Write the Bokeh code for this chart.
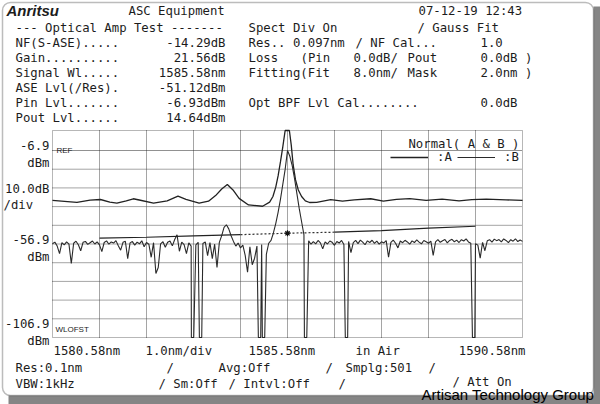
import numpy as np
from bokeh.plotting import figure
from bokeh.models import Range1d, Label, Legend, LegendItem, BoxAnnotation
from bokeh.embed import file_html
from bokeh.resources import INLINE

# ---------------- data ----------------
x_start, x_end = 1580.58, 1590.58
y_bottom, y_top = -106.9, 3.8
ref_level = -6.9
x_grid = [1581.58, 1582.58, 1583.58, 1584.58, 1585.58, 1586.58, 1587.58, 1588.58, 1589.58]
y_grid = [-96.9, -86.9, -76.9, -66.9, -56.9, -46.9, -36.9, -26.9, -16.9]

signal_wl = 1585.58
ase_lvl = -51.12

# Trace A (amplifier output)
a_wl = [1580.58, 1580.90, 1581.10, 1581.38, 1581.60, 1581.80, 1581.95, 1582.15, 1582.30, 1582.45,
        1582.73, 1583.02, 1583.25, 1583.42, 1583.70, 1583.90, 1584.05, 1584.18, 1584.30, 1584.42,
        1584.55, 1584.75, 1585.05, 1585.20, 1585.27, 1585.33, 1585.38, 1585.43, 1585.48, 1585.53,
        1585.58, 1585.62, 1585.66, 1585.70, 1585.75, 1585.81, 1585.88, 1585.96, 1586.05, 1586.20,
        1586.50, 1586.75, 1587.00, 1587.35, 1587.62, 1587.90, 1588.18, 1588.53, 1588.87, 1589.23,
        1589.50, 1589.81, 1590.23, 1590.58]
a_db = [-33.6, -34.2, -34.6, -33.4, -33.1, -34.5, -35.0, -33.8, -32.7, -33.5,
        -35.0, -33.8, -31.3, -33.0, -35.1, -34.0, -31.0, -27.5, -25.1, -28.0,
        -32.5, -36.0, -36.7, -34.5, -31.5, -26.5, -20.5, -13.0, -5.0, 5.0,
        14.64, 7.0, -4.0, -14.5, -22.5, -28.0, -31.5, -33.8, -34.7, -34.6,
        -33.2, -34.0, -33.3, -32.7, -34.0, -33.0, -32.6, -33.6, -32.9, -33.8,
        -33.2, -32.9, -33.3, -33.6]

# Trace B (amplifier input), 0.05 nm steps from 1580.58 to 1590.58
b_db = [-56.8, -55.9, -58.0, -62.0, -56.2, -57.4, -55.8, -57.0, -67.3, -56.5, -55.4, -57.3, -60.5, -56.0, -55.5, -57.1, -56.2, -55.3, -56.9, -55.8, -57.4,
        -61.0, -56.1, -55.2, -57.0, -55.8, -56.4, -55.1, -57.8, -60.2, -56.0, -55.4, -64.7, -56.3, -55.6, -57.5, -55.9, -56.8, -55.2, -58.4, -56.1,
        -57.0, -64.0, -56.2, -72.7, -69.5, -56.8, -55.7, -58.6, -56.0, -55.3, -57.9, -54.5, -52.0, -60.8, -55.9, -57.2, -62.0, -56.3, -58.0, -56.5,
        -57.4, -56.0, -58.5, -56.6, -55.8, -63.1, -56.2, -64.7, -57.0, -69.5, -56.0, -52.4, -48.0, -46.6, -48.8, -52.5, -55.5, -58.0, -56.4, -59.0,
        -57.5, -63.0, -72.0, -58.4, -68.0, -64.5, -58.0, -59.5, -57.2, -60.0, -62.5, -56.5, -55.0, -51.0, -46.0, -40.0, -33.0, -25.0, -17.0, -6.93,
        -10.0, -15.0, -22.0, -30.0, -38.0, -45.0, -52.0, -56.5, -55.2, -57.0, -55.6, -56.8, -55.0, -56.3, -59.5, -55.8, -56.9, -55.3, -56.0, -57.6,
        -55.6, -56.4, -55.0, -57.2, -56.0, -55.5, -61.5, -56.2, -55.0, -56.7, -54.8, -55.9, -57.3, -55.2, -56.1, -54.9, -56.6, -55.4, -57.0, -55.7,
        -56.3, -55.1, -64.0, -56.0, -54.8, -56.5, -59.0, -55.3, -56.2, -54.9, -55.8, -57.0, -55.2, -56.1, -54.7, -55.9, -56.8, -55.0, -55.7, -56.5,
        -55.4, -63.0, -55.8, -54.6, -56.0, -55.2, -54.5, -56.3, -55.0, -54.4, -55.7, -54.8, -56.1, -54.6, -55.3, -54.2, -55.8, -56.5, -55.0, -56.8,
        -57.5, -64.5, -56.0, -60.5, -55.2, -54.6, -55.9, -54.3, -55.1, -54.5, -55.8, -54.2, -55.0, -56.2, -54.6, -55.4, -54.1, -55.6, -54.8, -55.5]
# deep dropouts in trace B (start/end wavelength, level far below the display floor)
deep_lo = [1583.535, 1583.705, 1584.960, 1585.045, 1585.940, 1586.810, 1589.515]
deep_hi = [1583.585, 1583.755, 1585.010, 1585.095, 1585.990, 1586.860, 1589.565]
deep_db = [-115.0, -115.0, -115.0, -115.0, -115.0, -115.0, -115.0]

# ASE fitting curve (solid outside mask, dotted inside mask)
fit_wl = [1581.58, 1582.58, 1583.58, 1584.58, 1585.58, 1586.58, 1587.58, 1588.58, 1589.58]
fit_db = [-53.8, -53.3, -52.6, -51.9, -51.12, -50.6, -49.7, -48.4, -47.4]
mask_lo, mask_hi = 1584.58, 1586.58

# ---------------- layout ----------------
W, H = 600, 404
FL, FT, FR, FB = 52, 130, 522, 337   # spectrum box edges in canvas pixels

ppx = (FR - FL) / (x_end - x_start)
ppy = (FB - FT) / (y_top - y_bottom)
xr = Range1d(x_start - FL / ppx, x_end + (W - FR) / ppx)
yr = Range1d(y_bottom - (H - FB) / ppy, y_top + FT / ppy)

p = figure(width=W, height=H, output_backend="svg", toolbar_location=None,
           x_axis_type=None, y_axis_type=None, x_range=xr, y_range=yr,
           min_border=0, min_border_left=0, min_border_right=0,
           min_border_top=0, min_border_bottom=0)
p.outline_line_color = None
p.background_fill_color = "white"
p.border_fill_color = "white"

# outer bezel
p.add_layout(BoxAnnotation(left=593, right=600, bottom=0, top=H - 6,
                           left_units="screen", right_units="screen", bottom_units="screen", top_units="screen",
                           fill_color="#858585", fill_alpha=1, line_color=None))
p.add_layout(BoxAnnotation(left=8, right=600, bottom=0, top=H - 395,
                           left_units="screen", right_units="screen", bottom_units="screen", top_units="screen",
                           fill_color="#858585", fill_alpha=1, line_color=None))
p.add_layout(BoxAnnotation(left=2, right=593, bottom=H - 395, top=H - 2,
                           left_units="screen", right_units="screen", bottom_units="screen", top_units="screen",
                           fill_alpha=0, line_color="#222222", line_width=1.5, border_radius=8))

# grid
p.segment(x0=x_grid, y0=[y_bottom] * len(x_grid), x1=x_grid, y1=[y_top] * len(x_grid),
          line_color="#4a4a4a", line_dash="1 1", line_width=1)
p.segment(x0=[x_start] * len(y_grid), y0=y_grid, x1=[x_end] * len(y_grid), y1=y_grid,
          line_color="#4a4a4a", line_dash="1 1", line_width=1)
p.segment(x0=[x_start], y0=[ref_level], x1=[x_end], y1=[ref_level],
          line_color="#222222", line_dash="1 1", line_width=1)

# traces (clipped to the display window like the instrument screen)
rA = p.line(a_wl, np.clip(a_db, y_bottom, y_top), line_color="#222222", line_width=1.3)

b_wl = np.round(np.linspace(x_start, x_end, len(b_db)), 3)
b_arr = np.array(b_db)
keep = np.ones(len(b_wl), dtype=bool)
for lo, hi in zip(deep_lo, deep_hi):
    keep &= ~((b_wl >= lo) & (b_wl <= hi))
wl_all = np.concatenate([b_wl[keep], np.array(deep_lo), np.array(deep_hi)])
db_all = np.concatenate([b_arr[keep], np.array(deep_db), np.array(deep_db)])
order = np.argsort(wl_all, kind="stable")
rB = p.line(wl_all[order], np.clip(db_all[order], y_bottom, y_top), line_color="#2a2a2a", line_width=1.1)

fw = np.array(fit_wl)
fd = np.array(fit_db)
left = fw <= mask_lo
right = fw >= mask_hi
mid = (fw >= mask_lo) & (fw <= mask_hi)
p.line(fw[left], fd[left], line_color="#222222", line_width=1.2)
p.line(fw[right], fd[right], line_color="#222222", line_width=1.2)
p.line(fw[mid], fd[mid], line_color="#333333", line_width=1.2, line_dash="2 2")
p.scatter([signal_wl], [ase_lvl], marker="asterisk", size=6, line_color="#111111", line_width=1.2)

# spectrum box
p.add_layout(BoxAnnotation(left=x_start, right=x_end, bottom=y_bottom, top=y_top,
                           fill_alpha=0, line_color="#111111", line_width=1))

legend = Legend(items=[LegendItem(label=":A", renderers=[rA]), LegendItem(label=":B", renderers=[rB])],
                orientation="horizontal", location=(390, H - 164),
                glyph_width=38, glyph_height=14, label_height=14, label_width=15,
                label_standoff=9, spacing=5,
                padding=0, margin=0, border_line_color=None, background_fill_alpha=0,
                label_text_font="DejaVu Sans Mono", label_text_font_size="12.3px",
                label_text_color="#1c1c1c")
p.add_layout(legend)

MONO = "DejaVu Sans Mono"


def T(text, x, y, align="left", size="12.3px", font=MONO, style="normal", color="#1c1c1c"):
    p.add_layout(Label(x=x, y=H - y, x_units="screen", y_units="screen", text=text,
                       text_align=align, text_baseline="middle", text_font=font,
                       text_font_size=size, text_font_style=style, text_color=color))


# header
T("Anritsu", 6, 10, size="15px", font="Liberation Sans", style="bold italic")
T("ASC Equipment", 128, 10)
T("07-12-19 12:43", 418, 10)
T("--- Optical Amp Test -------", 15, 27)
T("Spect Div On", 248, 27)
T("/ Gauss Fit", 417, 27)

left_names = ["NF(S-ASE).....", "Gain..........", "Signal Wl.....", "ASE Lvl(/Res).", "Pin Lvl.......", "Pout Lvl......"]
left_vals = ["-14.29dB", "21.56dB", "1585.58nm", "-51.12dBm", "-6.93dBm", "14.64dBm"]
rows = [42, 57, 72, 87, 102, 117]
for nm, vv, yy in zip(left_names, left_vals, rows):
    T(nm, 15, yy)
    T(vv, 225, yy, align="right")

T("Res.. 0.097nm", 248, 42)
T("/ NF Cal...", 355, 42)
T("1.0", 480, 42)
T("Loss", 248, 57)
T("(Pin", 300, 57)
T("0.0dB/", 353, 57)
T("Pout", 407, 57)
T("0.0dB )", 480, 57)
T("Fitting(Fit", 248, 72)
T("8.0nm/", 353, 72)
T("Mask", 407, 72)
T("2.0nm )", 480, 72)
T("Opt BPF Lvl Cal........", 248, 102)
T("0.0dB", 480, 102)

# left scale labels
T("-6.9", 49, 145, align="right")
T("dBm", 49, 162, align="right")
T("10.0dB", 49, 188, align="right")
T("/div", 3, 204)
T("-56.9", 49, 239, align="right")
T("dBm", 49, 256, align="right")
T("-106.9", 49, 323, align="right")
T("dBm", 49, 340, align="right")

# small in-frame tags
T("REF", 56, 150, size="8px", font="Liberation Sans")
T("WLOFST", 55, 329, size="8px", font="Liberation Sans")
T("Normal( A & B )", 519, 143, align="right")

# bottom labels
T("1580.58nm", 53, 350)
T("1.0nm/div", 145, 350)
T("1585.58nm", 248, 350)
T("in Air", 355, 350)
T("1590.58nm", 525, 350, align="right")
T("Res:0.1nm", 15, 367)
T("/", 166, 367)
T("Avg:Off", 218, 367)
T("/", 325, 367)
T("Smplg:501", 345, 367)
T("/", 428, 367)
T("VBW:1kHz", 15, 383)
T("/ Sm:Off", 158, 383)
T("/ Intvl:Off", 228, 383)
T("/", 338, 383)
T("/ Att On", 452, 381)

T("Artisan Technology Group", 421, 394, size="15px", font="Liberation Sans", color="#000000")

open("out.html", "w").write(file_html(p, INLINE))
